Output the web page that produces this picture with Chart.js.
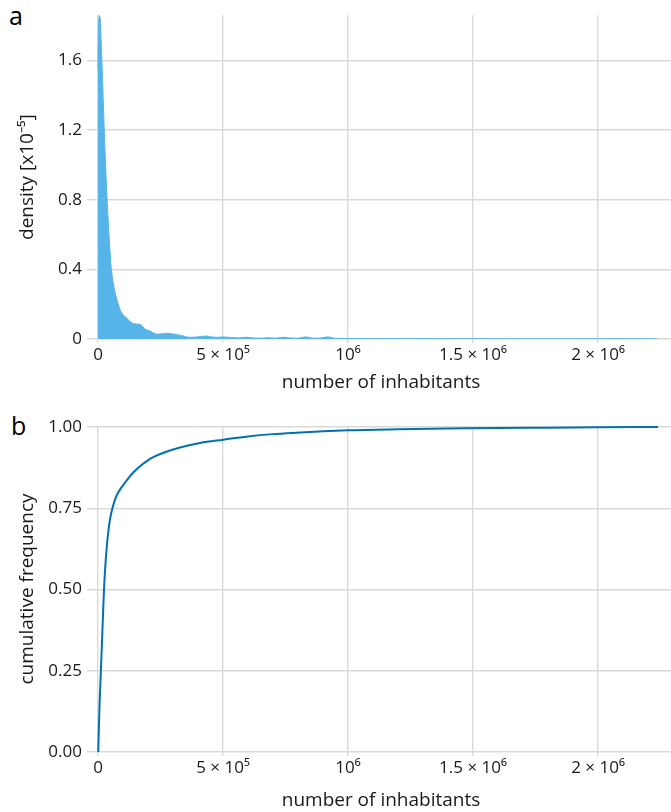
<!DOCTYPE html>
<html>
<head>
<meta charset="utf-8">
<script src="https://cdn.jsdelivr.net/npm/chart.js@4"></script>
<style>
  body { margin: 0; background: #fff; width: 671px; height: 812px; position: relative; overflow: hidden; }
  canvas { position: absolute; left: 0; }
  #c_top { top: 0; }
  #c_bot { top: 400px; }
  .tag { position: absolute; font-family: "Open Sans", sans-serif; font-size: 25px; color: #000; line-height: 1; }
</style>
</head>
<body>
<div class="tag" style="left:9px;top:3px;">a</div>
<div class="tag" style="left:11px;top:413px;">b</div>
<canvas id="c_top" width="671" height="400"></canvas>
<canvas id="c_bot" width="671" height="412"></canvas>
<script>
// x ticks shared by both panels
const xTickValues = [0, 500000, 1000000, 1500000, 2000000];
const xTickLabels = ['0', '5 × 10⁵', '10⁶', '1.5 × 10⁶', '2 × 10⁶'];

// panel a: density (units of 1e-5)
const densX = [0, 2000, 5000, 9000, 13000, 18000, 25000, 31000, 37000, 44000, 52000, 60000, 68000, 75000, 88000,
  100000, 115000, 128000, 140000, 155000, 168000, 180000, 190000, 200000, 210000, 222000, 235000, 255000, 275000,
  295000, 315000, 335000, 355000, 375000, 395000, 415000, 435000, 455000, 475000, 500000, 520000, 540000, 565000,
  590000, 620000, 650000, 680000, 710000, 740000, 770000, 800000, 830000, 860000, 890000, 920000, 950000, 1000000,
  1100000, 1200000, 1300000, 1400000, 1500000, 1600000, 1700000, 1800000, 1900000, 2000000, 2100000, 2200000, 2240000];
const densY = [1.55, 1.8, 1.86, 1.84, 1.7, 1.5, 1.2, 0.98, 0.78, 0.6, 0.42, 0.33, 0.27, 0.23, 0.17,
  0.14, 0.12, 0.1, 0.09, 0.085, 0.085, 0.07, 0.055, 0.05, 0.045, 0.035, 0.028, 0.03, 0.033,
  0.03, 0.025, 0.02, 0.012, 0.01, 0.012, 0.015, 0.017, 0.012, 0.01, 0.012, 0.01, 0.008, 0.006,
  0.01, 0.006, 0.005, 0.007, 0.005, 0.01, 0.006, 0.005, 0.012, 0.005, 0.006, 0.012, 0.004, 0.003,
  0.002, 0.002, 0.002, 0.002, 0.002, 0.001, 0.001, 0.001, 0.001, 0.001, 0.001, 0.001, 0];
const densTickValues = [0, 0.4, 0.8, 1.2, 1.6];
const densTickLabels = ['0', '0.4', '0.8', '1.2', '1.6'];

// panel b: cumulative frequency
const cumX = [1000, 3000, 6000, 10000, 14000, 19000, 24000, 30000, 36000, 42000, 48000, 60000, 75000, 95000,
  115000, 140000, 168000, 195000, 221000, 270000, 328000, 408000, 501000, 600000, 700000, 808000, 900000,
  1000000, 1200000, 1400000, 1600000, 1800000, 2000000, 2240000];
const cumY = [0, 0.06, 0.14, 0.22, 0.3, 0.4, 0.5, 0.58, 0.64, 0.683, 0.716, 0.757, 0.79, 0.815,
  0.836, 0.859, 0.879, 0.895, 0.907, 0.923, 0.937, 0.951, 0.961, 0.971, 0.978, 0.983, 0.987,
  0.99, 0.993, 0.995, 0.997, 0.998, 0.999, 1.0];
const cumTickValues = [0, 0.25, 0.5, 0.75, 1];
const cumTickLabels = ['0.00', '0.25', '0.50', '0.75', '1.00'];

const FONT = '"Open Sans", sans-serif';
const GRID = '#d9d9d9';

function xScale(titlePadBottom, height) {
  return {
    type: 'linear', min: -28000, max: 2292000,
    afterBuildTicks: s => { s.ticks = xTickValues.map(v => ({ value: v })); },
    afterFit: s => { s.height = height; },
    ticks: {
      callback: (v) => xTickLabels[xTickValues.indexOf(v)],
      font: { family: FONT, size: 17 }, color: '#1a1a1a', padding: 2, maxRotation: 0, autoSkip: false
    },
    grid: { color: GRID, lineWidth: 1.4, tickLength: 4, drawTicks: true },
    border: { display: false },
    title: { display: true, text: 'number of inhabitants', font: { family: FONT, size: 19 }, color: '#1a1a1a',
      padding: { top: 0, bottom: titlePadBottom } }
  };
}

function yScale(vals, labels, min, max, title) {
  return {
    type: 'linear', min: min, max: max,
    afterBuildTicks: s => { s.ticks = vals.map(v => ({ value: v })); },
    afterFit: s => { s.width = 91; },
    ticks: {
      callback: (v) => labels[vals.indexOf(v)],
      font: { family: FONT, size: 17 }, color: '#1a1a1a', padding: 5, autoSkip: false
    },
    grid: { color: GRID, lineWidth: 1.4, tickLength: 4 },
    border: { display: false },
    title: { display: true, text: title, font: { family: FONT, size: 19 }, color: '#1a1a1a',
      padding: { top: 16, bottom: 0 } }
  };
}

const common = {
  responsive: false, animation: false,
  plugins: { legend: { display: false }, tooltip: { enabled: false } },
  elements: { point: { radius: 0 } }
};

new Chart(document.getElementById('c_top'), {
  type: 'line',
  data: {
    datasets: [{
      data: densX.map((x, i) => ({ x: x, y: densY[i] })),
      fill: 'origin', backgroundColor: '#56B4E9', borderColor: '#56B4E9', borderWidth: 1,
      tension: 0.2
    }]
  },
  options: Object.assign({}, common, {
    layout: { padding: { top: 10, left: 0, right: 0, bottom: 0 } },
    scales: {
      x: xScale(6, 61),
      y: yScale(densTickValues, densTickLabels, 0, 1.86, 'density [x10⁻⁵]')
    }
  })
});

new Chart(document.getElementById('c_bot'), {
  type: 'line',
  data: {
    datasets: [{
      data: cumX.map((x, i) => ({ x: x, y: cumY[i] })),
      fill: false, borderColor: '#0072B2', borderWidth: 2, cubicInterpolationMode: 'monotone'
    }]
  },
  options: Object.assign({}, common, {
    layout: { padding: { top: 26, left: 0, right: 0, bottom: 0 } },
    scales: {
      x: xScale(0, 60),
      y: yScale(cumTickValues, cumTickLabels, 0, 1.003, 'cumulative frequency')
    }
  })
});
</script>
</body>
</html>
